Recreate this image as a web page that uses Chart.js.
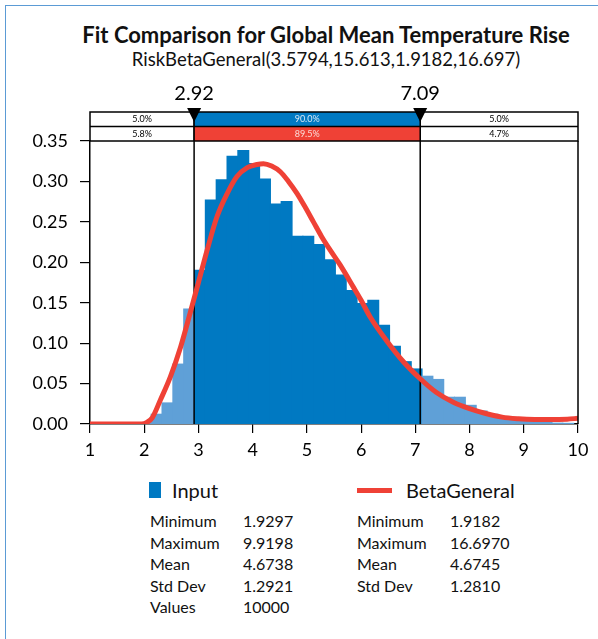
<!DOCTYPE html>
<html>
<head>
<meta charset="utf-8">
<script src="https://cdn.jsdelivr.net/npm/chart.js@4"></script>
<style>
  body { margin: 0; background: #fff; font-family: Lato, "Open Sans", sans-serif; color: #111; }
  #frame { position: absolute; left: 5px; top: 5px; width: 620px; height: 660px;
           border-left: 1px solid #5b9bd5; border-top: 1px solid #5b9bd5; }
  .txt { position: absolute; white-space: nowrap; }
  #title { left: 326px; top: 22px; transform: translateX(-50%); font-size: 22px; font-weight: 700; line-height: 26px; }
  #subtitle { left: 326px; top: 48px; transform: translateX(-50%); font-size: 18.5px; line-height: 22px; }
  #chart { position: absolute; left: 0; top: 0; }
  .key { position: absolute; }
  .legend { font-size: 20px; line-height: 24px; top: 478px; }
  .stat { font-size: 16px; line-height: 20px; }
</style>
</head>
<body>
<div id="frame"></div>
<div class="txt" id="title">Fit Comparison for Global Mean Temperature Rise</div>
<div class="txt" id="subtitle">RiskBetaGeneral(3.5794,15.613,1.9182,16.697)</div>
<canvas id="chart" width="598" height="470"></canvas>
<div id="legendBox"></div>

<script>
// ===============================
// DATA
// ===============================
// histogram bins (centres, 40 bins from 1.9297 to 9.9198)
const binCenters = [2.030, 2.229, 2.429, 2.629, 2.829, 3.028, 3.228, 3.428, 3.628, 3.827,
  4.027, 4.227, 4.427, 4.626, 4.826, 5.026, 5.226, 5.425, 5.625, 5.825,
  6.025, 6.224, 6.424, 6.624, 6.824, 7.023, 7.223, 7.423, 7.623, 7.822,
  8.022, 8.222, 8.422, 8.621, 8.821, 9.021, 9.221, 9.420, 9.620, 9.820];
const inputDensity = [0.001, 0.012, 0.026, 0.074, 0.142, 0.190, 0.277, 0.302, 0.331, 0.338,
  0.322, 0.303, 0.272, 0.275, 0.232, 0.232, 0.222, 0.203, 0.184, 0.165,
  0.149, 0.153, 0.122, 0.096, 0.077, 0.068, 0.059, 0.055, 0.033, 0.033,
  0.023, 0.016, 0.012, 0.008, 0.006, 0.004, 0.003, 0.002, 0.001, 0.0005];

// fitted BetaGeneral curve
const fitX = [1.0, 1.5, 1.95, 2.05, 2.15, 2.3, 2.48, 2.67, 2.85, 3.0, 3.16, 3.34, 3.53, 3.71,
  3.9, 4.08, 4.2, 4.35, 4.51, 4.66, 4.82, 4.97, 5.12, 5.27, 5.43, 5.61, 5.86, 6.0, 6.17,
  6.47, 6.78, 7.09, 7.39, 7.7, 8.0, 8.3, 8.6, 8.9, 9.2, 9.5, 9.8, 10.0];
const fitY = [0, 0, 0, 0.002, 0.008, 0.030, 0.058, 0.095, 0.138, 0.175, 0.215, 0.256, 0.285, 0.306,
  0.317, 0.321, 0.322, 0.319, 0.312, 0.300, 0.285, 0.268, 0.250, 0.232, 0.215, 0.197, 0.169, 0.153, 0.132,
  0.103, 0.077, 0.056, 0.039, 0.027, 0.019, 0.013, 0.0085, 0.0065, 0.0056, 0.0055, 0.006, 0.007];

const lowerCut = 2.92;
const upperCut = 7.09;
const inputPct = ["5.0%", "90.0%", "5.0%"];
const fitPct = ["5.8%", "89.5%", "4.7%"];

const statLabels = ["Minimum", "Maximum", "Mean", "Std Dev", "Values"];
const inputStats = ["1.9297", "9.9198", "4.6738", "1.2921", "10000"];
const fitStats = ["1.9182", "16.6970", "4.6745", "1.2810"];

const DARK = "#0079c2";
const LIGHT = "#5fa0d7";
const RED = "#ef4136";

// ===============================
// LEGEND + STATS (html text)
// ===============================
const box = document.getElementById("legendBox");
box.innerHTML =
  `<div class="key" style="left:149px;top:482px;width:12px;height:16px;background:${DARK}"></div>
   <div class="txt legend" style="left:172px">Input</div>
   <div class="key" style="left:357px;top:488px;width:35px;height:5px;background:${RED}"></div>
   <div class="txt legend" style="left:406px">BetaGeneral</div>` +
  statLabels.map((lab, i) => {
    const top = 511 + i * 21.5;
    let html = `<div class="txt stat" style="left:150px;top:${top}px">${lab}</div>
                <div class="txt stat" style="left:243px;top:${top}px">${inputStats[i]}</div>`;
    if (fitStats[i]) {
      html += `<div class="txt stat" style="left:357px;top:${top}px">${lab}</div>
               <div class="txt stat" style="left:450px;top:${top}px">${fitStats[i]}</div>`;
    }
    return html;
  }).join("");

// ===============================
// DELIMITER TABLE / LINES PLUGIN
// ===============================
const delimiters = {
  id: "delimiters",
  afterDatasetDraw(chart, args) {
    if (args.index !== 0) return;
    const { ctx, chartArea: a, scales: { x } } = chart;
    ctx.save();
    ctx.strokeStyle = "#000";
    ctx.lineWidth = 1.5;
    [lowerCut, upperCut].forEach(v => {
      const px = x.getPixelForValue(v);
      ctx.beginPath();
      ctx.moveTo(px, a.top - 29);
      ctx.lineTo(px, a.bottom);
      ctx.stroke();
    });
    ctx.restore();
  },
  afterDraw(chart) {
    const { ctx, chartArea: a, scales: { x } } = chart;
    const x1 = x.getPixelForValue(lowerCut);
    const x2 = x.getPixelForValue(upperCut);
    const top = a.top - 29, mid = a.top - 14.5;
    ctx.save();
    // filled middle cells
    ctx.fillStyle = DARK;
    ctx.fillRect(x1, top, x2 - x1, 14.5);
    ctx.fillStyle = RED;
    ctx.fillRect(x1, mid, x2 - x1, 14.5);
    // grid of the table
    ctx.strokeStyle = "#000";
    ctx.lineWidth = 1.5;
    ctx.strokeRect(a.left, top, a.right - a.left, 29);
    ctx.beginPath();
    ctx.moveTo(a.left, mid); ctx.lineTo(a.right, mid);
    ctx.moveTo(x1, top); ctx.lineTo(x1, a.top);
    ctx.moveTo(x2, top); ctx.lineTo(x2, a.top);
    ctx.moveTo(a.right, a.top); ctx.lineTo(a.right, a.bottom);
    ctx.stroke();
    // percentages
    ctx.font = "9px Lato, sans-serif";
    ctx.textAlign = "center";
    ctx.textBaseline = "middle";
    const cx = [(a.left + x1) / 2, (x1 + x2) / 2, (x2 + a.right) / 2];
    inputPct.forEach((t, i) => {
      ctx.fillStyle = i === 1 ? "#dbe9f6" : "#000";
      ctx.fillText(t, cx[i], top + 7.5);
    });
    fitPct.forEach((t, i) => {
      ctx.fillStyle = i === 1 ? "#fbdcd9" : "#000";
      ctx.fillText(t, cx[i], mid + 7.5);
    });
    // triangles + values
    ctx.fillStyle = "#000";
    ctx.font = "20px Lato, sans-serif";
    [[x1, lowerCut], [x2, upperCut]].forEach(([px, v]) => {
      ctx.beginPath();
      ctx.moveTo(px - 7, top - 4);
      ctx.lineTo(px + 7, top - 4);
      ctx.lineTo(px, top + 10);
      ctx.closePath();
      ctx.fill();
      ctx.fillText(v.toFixed(2), px, top - 18);
    });
    ctx.restore();
  }
};

// ===============================
// CHART
// ===============================
const barColors = binCenters.map(c => (c < lowerCut || c > upperCut) ? LIGHT : DARK);

new Chart(document.getElementById("chart"), {
  type: "bar",
  data: {
    datasets: [
      {
        label: "Input",
        data: binCenters.map((c, i) => ({ x: c, y: inputDensity[i] })),
        backgroundColor: barColors,
        borderWidth: 0,
        barPercentage: 1,
        categoryPercentage: 1,
        inflateAmount: 0.6,
        order: 1
      },
      {
        type: "line",
        label: "BetaGeneral",
        data: fitX.map((v, i) => ({ x: v, y: fitY[i] })),
        borderColor: RED,
        borderWidth: 5,
        pointRadius: 0,
        cubicInterpolationMode: "monotone",
        order: 0
      }
    ]
  },
  options: {
    responsive: false,
    animation: false,
    layout: { padding: { top: 141, left: 0, right: 20, bottom: 6 } },
    plugins: { legend: { display: false }, tooltip: { enabled: false } },
    scales: {
      x: {
        type: "linear",
        min: 1, max: 10,
        offset: false,
        afterFit(scale) { scale.height = 40; },
        grid: { drawOnChartArea: false, offset: false, tickLength: 9, color: "#000", lineWidth: 1.2 },
        border: { color: "#000", width: 1.5 },
        ticks: { stepSize: 1, color: "#000", font: { size: 18, family: "Lato" }, padding: 6 }
      },
      y: {
        min: 0, max: 0.35,
        afterFit(scale) { scale.width = 90; },
        grid: { drawOnChartArea: false, tickLength: 10, color: "#000", lineWidth: 1.2 },
        border: { color: "#000", width: 1.5 },
        ticks: {
          stepSize: 0.05, color: "#000", font: { size: 18, family: "Lato" }, padding: 12,
          callback: v => v.toFixed(2)
        }
      }
    }
  },
  plugins: [delimiters]
});
</script>
</body>
</html>
